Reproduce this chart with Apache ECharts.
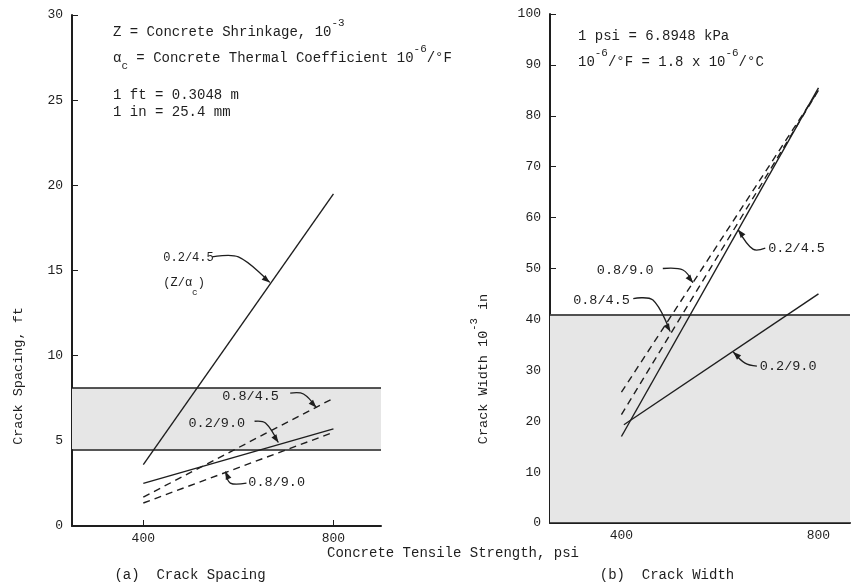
<!DOCTYPE html>
<html>
<head>
<meta charset="utf-8">
<script src="https://cdn.jsdelivr.net/npm/echarts@6/dist/echarts.min.js"></script>
<style>
  html, body { margin: 0; padding: 0; background: #fff; }
  #chart { width: 851px; height: 586px; }
</style>
</head>
<body>
<div id="chart"></div>
<script>
// tensile strength, psi (line end points)
const psi = [400, 800]
const psiTicks = [400, 800]

// (a) crack spacing, ft
const spacing_02_45 = [3.6, 19.5]
const spacing_08_45 = [1.7, 7.5]
const spacing_02_90 = [2.5, 5.7]
const spacing_08_90 = [1.35, 5.5]
const spacingBand = [4.5, 8.1]

// (b) crack width, 10^-3 in
const width_02_45 = [17, 85.5]
const width_08_45 = [21.3, 85]
const width_08_90 = [25.7, 85]
const psi_b_02_90 = [405, 800]
const width_02_90 = [19.3, 45]
const widthBand = [0, 41]

const FONT = 'Liberation Mono'
const INK = '#1e1e1e'
const TXT = '#1e1e1e'

const pairs = (xs, ys) => xs.map((x, i) => [x, ys[i]])

function lineSeries(g, xs, ys, dashed) {
  return {
    type: 'line',
    xAxisIndex: g,
    yAxisIndex: g,
    data: pairs(xs, ys),
    symbol: 'none',
    z: 5,
    lineStyle: { color: INK, width: 1.4, type: dashed ? [7, 5] : 'solid' },
  }
}

function bandSeries(g, band) {
  return {
    type: 'line',
    xAxisIndex: g,
    yAxisIndex: g,
    data: [],
    z: 1,
    markArea: {
      silent: true,
      itemStyle: { color: '#e6e6e6' },
      data: [[{ yAxis: band[0] }, { yAxis: band[1] }]],
    },
    markLine: {
      silent: true,
      symbol: 'none',
      label: { show: false },
      lineStyle: { color: INK, width: 1.6, type: 'solid' },
      data: band.map((v) => ({ yAxis: v })),
    },
  }
}

function xAxis(g, min, max) {
  return {
    type: 'value',
    gridIndex: g,
    min: min,
    max: max,
    splitLine: { show: false },
    axisLine: { onZero: false, lineStyle: { color: INK, width: 2 } },
    axisTick: { inside: true, length: 6, customValues: psiTicks, lineStyle: { color: INK } },
    axisLabel: { customValues: psiTicks, margin: 6, color: TXT, fontFamily: FONT, fontSize: 13 },
  }
}

function yAxis(g, max, step, margin) {
  return {
    type: 'value',
    gridIndex: g,
    min: 0,
    max: max,
    interval: step,
    splitLine: { show: false },
    axisLine: { show: true, onZero: false, lineStyle: { color: INK, width: 2 } },
    axisTick: { show: true, inside: true, length: 6, lineStyle: { color: INK } },
    axisLabel: { margin: margin, color: TXT, fontFamily: FONT, fontSize: 13 },
  }
}

const chart = echarts.init(document.getElementById('chart'))

const option = {
  animation: false,
  backgroundColor: '#fff',
  grid: [
    { left: 72, top: 15, width: 309, height: 511 },
    { left: 550, top: 14, width: 300, height: 509 },
  ],
  xAxis: [xAxis(0, 250, 900), xAxis(1, 255, 864)],
  yAxis: [yAxis(0, 30, 5, 9), yAxis(1, 100, 10, 9)],
  series: [
    bandSeries(0, spacingBand),
    lineSeries(0, psi, spacing_02_45, false),
    lineSeries(0, psi, spacing_08_45, true),
    lineSeries(0, psi, spacing_02_90, false),
    lineSeries(0, psi, spacing_08_90, true),
    bandSeries(1, widthBand),
    lineSeries(1, psi, width_02_45, false),
    lineSeries(1, psi, width_08_45, true),
    lineSeries(1, psi, width_08_90, true),
    lineSeries(1, psi_b_02_90, width_02_90, false),
  ],
}
chart.setOption(option)

// leader labels, placed in data coordinates of each panel
const notes = [
  { g: 0, text: '0.2/4.5', size: 12, at: [442, 15.75], path: [[545, 15.8], [600, 15.8], [666, 14.3]] },
  { g: 0, text: '(Z/α{sub|c})', size: 12, at: [442, 14.25], path: null },
  { g: 0, text: '0.8/4.5', size: 13.5, at: [566, 7.63], path: [[709, 7.8], [737, 7.75], [764, 6.95]] },
  { g: 0, text: '0.2/9.0', size: 13.5, at: [495, 6.05], path: [[634, 6.15], [657, 6.05], [684, 4.9]] },
  { g: 0, text: '0.8/9.0', size: 13.5, at: [621, 2.55], path: [[617, 2.52], [583, 2.52], [573, 3.2]] },
  { g: 1, text: '0.2/4.5', size: 13.5, at: [698, 54.0], path: [[692, 54.0], [667, 53.8], [637, 57.6]] },
  { g: 1, text: '0.8/9.0', size: 13.5, at: [350, 49.7], path: [[484, 50.0], [525, 49.7], [545, 47.2]] },
  { g: 1, text: '0.8/4.5', size: 13.5, at: [302, 43.8], path: [[424, 44.1], [464, 43.8], [499, 37.6]] },
  { g: 1, text: '0.2/9.0', size: 13.5, at: [681, 30.8], path: [[675, 30.8], [651, 31.4], [627, 33.6]] },
]

const rich = (size) => ({
  n: { fontFamily: FONT, fontSize: size, lineHeight: 28, fill: TXT },
  sup: { fontFamily: FONT, fontSize: size * 0.78, lineHeight: 10, verticalAlign: 'top', fill: TXT },
  sub: { fontFamily: FONT, fontSize: size * 0.78, lineHeight: 10, verticalAlign: 'bottom', fill: TXT },
})

function label(x, y, text, size, extra) {
  return Object.assign({
    type: 'text',
    x: x,
    y: y,
    z: 20,
    style: {
      text: text,
      fontFamily: FONT,
      fontSize: size,
      fill: TXT,
      verticalAlign: 'middle',
      rich: rich(size),
    },
  }, extra || {})
}

function arrowHead(p, q) {
  const dx = q[0] - p[0], dy = q[1] - p[1]
  const d = Math.hypot(dx, dy), ux = dx / d, uy = dy / d
  const bx = q[0] - ux * 8, by = q[1] - uy * 8
  return [[q[0], q[1]], [bx - uy * 3, by + ux * 3], [bx + uy * 3, by - ux * 3]]
}

const graphic = []
notes.forEach((n) => {
  const p = chart.convertToPixel({ gridIndex: n.g }, n.at)
  graphic.push(label(p[0], p[1], '{n|' + n.text.replace(/\{sub\|c\}/, '}{sub|c}{n|') + '}', n.size))
  if (n.path) {
    const pts = n.path.map((d) => chart.convertToPixel({ gridIndex: n.g }, d))
    graphic.push({
      type: 'polyline', z: 20,
      shape: { points: pts, smooth: 0.35 },
      style: { stroke: INK, lineWidth: 1.3, fill: null },
    })
    graphic.push({
      type: 'polygon', z: 20,
      shape: { points: arrowHead(pts[pts.length - 2], pts[pts.length - 1]) },
      style: { fill: INK },
    })
  }
})

// notes and unit conversions
graphic.push(label(113, 32, '{n|Z = Concrete Shrinkage, 10}{sup|-3}', 14))
graphic.push(label(113, 58, '{n|α}{sub|c}{n| = Concrete Thermal Coefficient 10}{sup|-6}{n|/°F}', 14))
graphic.push(label(113, 95, '1 ft = 0.3048 m', 14))
graphic.push(label(113, 112, '1 in = 25.4 mm', 14))
graphic.push(label(578, 36, '1 psi = 6.8948 kPa', 14))
graphic.push(label(578, 62, '{n|10}{sup|-6}{n|/°F = 1.8 x 10}{sup|-6}{n|/°C}', 14))

// axis titles
graphic.push(label(18, 376, 'Crack Spacing, ft', 13.5, { rotation: Math.PI / 2, style: {
  text: 'Crack Spacing, ft', fontFamily: FONT, fontSize: 13.5, fill: TXT, align: 'center', verticalAlign: 'middle' } }))
graphic.push(label(483, 369, '', 13.5, { rotation: Math.PI / 2, style: {
  text: '{n|Crack Width 10}{sup|-3}{n| in}', fontFamily: FONT, fontSize: 13.5, fill: TXT,
  align: 'center', verticalAlign: 'middle', rich: rich(13.5) } }))
graphic.push(label(453, 553, '', 14, { style: {
  text: 'Concrete Tensile Strength, psi', fontFamily: FONT, fontSize: 14, fill: TXT, align: 'center', verticalAlign: 'middle' } }))
graphic.push(label(190, 575, '', 14, { style: {
  text: '(a)  Crack Spacing', fontFamily: FONT, fontSize: 14, fill: TXT, align: 'center', verticalAlign: 'middle' } }))
graphic.push(label(667, 575, '', 14, { style: {
  text: '(b)  Crack Width', fontFamily: FONT, fontSize: 14, fill: TXT, align: 'center', verticalAlign: 'middle' } }))

chart.setOption({ graphic: graphic })
</script>
</body>
</html>
